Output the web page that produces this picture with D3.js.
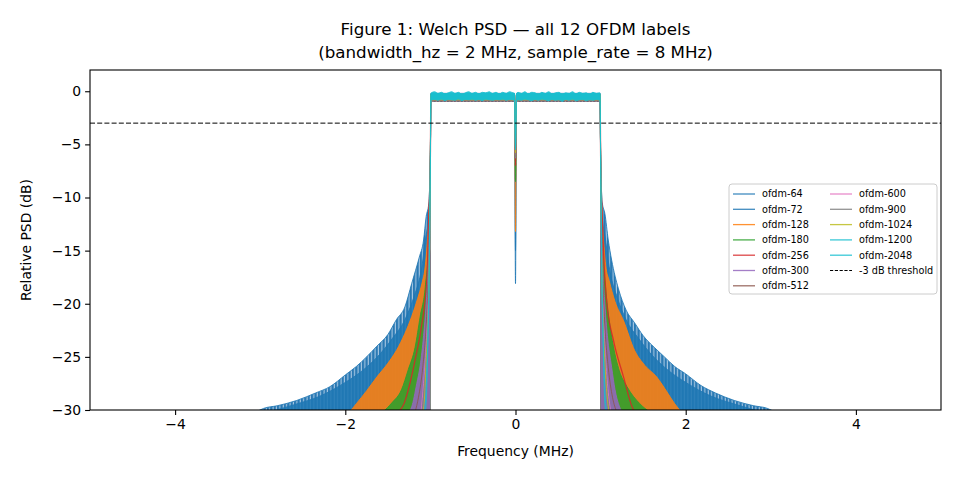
<!DOCTYPE html>
<html>
<head>
<meta charset="utf-8">
<script src="https://cdn.jsdelivr.net/npm/d3@7"></script>
<style>
  body { margin: 0; background: #fff; }
  svg { font-family: 'DejaVu Sans', sans-serif; }
</style>
</head>
<body>
<div id="chart-1"></div>
<script>
// ---- data ----
let labels = ['ofdm-64', 'ofdm-72', 'ofdm-128', 'ofdm-180', 'ofdm-256', 'ofdm-300',
  'ofdm-512', 'ofdm-600', 'ofdm-900', 'ofdm-1024', 'ofdm-1200', 'ofdm-2048']

// series whose side lobes ripple so densely they read as a filled band
let denseRipple = ['ofdm-64', 'ofdm-72', 'ofdm-128', 'ofdm-180', 'ofdm-300']

// in-band plateau (dB): upper and lower edge of the noise
let bandTop = [-0.3, -0.3, -0.25, -0.3, -0.35, -0.3, -0.3, -0.2, -0.3, -0.3, -0.2, -0.2]
let bandLow = [-1.0, -0.95, -0.95, -0.9, -0.95, -0.9, -0.9, -0.85, -0.9, -0.85, -0.8, -0.85]

// depth of the DC notch (dB)
let notchDb = [-18.1, -15, -13.2, -8.5, -7, -6.3, -6, -6, -6.2, -5.8, -5.5, -5.3]

// ofdm-2048 in-band noise (freq MHz, top dB, bottom dB)
let band2048 = [
  [-0.99, -0.15, -0.85], [-0.95, -0.05, -0.8], [-0.91, -0.2, -0.9], [-0.87, -0.1, -0.75],
  [-0.83, -0.25, -0.95], [-0.79, -0.15, -0.8], [-0.75, -0.05, -0.85], [-0.71, -0.2, -0.9],
  [-0.67, -0.1, -0.7], [-0.63, -0.3, -0.95], [-0.59, -0.15, -0.8], [-0.55, -0.05, -0.85],
  [-0.51, -0.2, -0.75], [-0.47, -0.1, -0.9], [-0.43, -0.25, -0.8], [-0.39, -0.1, -0.95],
  [-0.35, -0.15, -0.75], [-0.31, -0.05, -0.85], [-0.27, -0.2, -0.9], [-0.23, -0.1, -0.8],
  [-0.19, -0.25, -0.85], [-0.15, -0.1, -0.75], [-0.11, -0.2, -0.9], [-0.07, -0.05, -0.8],
  [-0.03, -0.15, -0.85], [-0.012, -0.2, -0.9],
  [0.012, -0.2, -0.9], [0.03, -0.1, -0.85], [0.07, -0.2, -0.9], [0.11, -0.05, -0.75], [0.15, -0.25, -0.85],
  [0.19, -0.1, -0.95], [0.23, -0.15, -0.8], [0.27, -0.3, -0.9], [0.31, -0.1, -0.75],
  [0.35, -0.2, -0.85], [0.39, -0.05, -0.95], [0.43, -0.25, -0.8], [0.47, -0.15, -0.9],
  [0.51, -0.1, -0.85], [0.55, -0.3, -1.0], [0.59, -0.15, -0.8], [0.63, -0.2, -0.9],
  [0.67, -0.05, -0.75], [0.71, -0.25, -0.95], [0.75, -0.1, -0.85], [0.79, -0.2, -0.8],
  [0.83, -0.15, -0.95], [0.87, -0.3, -0.85], [0.91, -0.1, -0.9], [0.95, -0.2, -0.8],
  [0.99, -0.15, -0.9]
]

// side-lobe peak envelope (freq MHz, dB), left and right of the band
let skirt64 = [
  [-3.05, -30.2], [-2.96, -29.85], [-2.8, -29.6], [-2.57, -29.1], [-2.35, -28.4], [-2.18, -27.8],
  [-2.0, -26.7], [-1.87, -25.9], [-1.75, -25.0], [-1.63, -24.0], [-1.5, -22.9], [-1.4, -21.5],
  [-1.3, -20.3], [-1.22, -18.1], [-1.13, -15.6], [-1.08, -14.0], [-1.05, -11.8], [-1.02, -10.6], [-1.0, -6],
  [1.0, -6], [1.02, -10.5], [1.05, -11.5], [1.09, -14], [1.13, -15.9], [1.21, -18.6], [1.3, -20.6],
  [1.4, -21.8], [1.5, -23], [1.63, -24.1], [1.75, -25], [1.87, -25.9], [2.0, -26.6], [2.18, -27.7],
  [2.35, -28.4], [2.57, -29.1], [2.8, -29.6], [2.96, -29.85], [3.05, -30.2]
]
let skirt72 = [
  [-2.9, -30.2], [-2.6, -29.5], [-2.3, -28.7], [-2.0, -27.4], [-1.8, -26.3], [-1.6, -24.8],
  [-1.45, -23.3], [-1.3, -21.5], [-1.2, -19.5], [-1.1, -16.5], [-1.05, -13.5], [-1.02, -12], [-1.0, -6],
  [1.0, -6], [1.02, -12], [1.05, -13.5], [1.1, -16.5], [1.2, -19.5], [1.3, -21.5], [1.45, -23.3],
  [1.6, -24.8], [1.8, -26.3], [2.0, -27.4], [2.3, -28.7], [2.6, -29.5], [2.9, -30.2]
]
let skirt128 = [
  [-1.95, -30.2], [-1.87, -29.4], [-1.75, -28.2], [-1.63, -26.9], [-1.5, -25.6], [-1.4, -24.4],
  [-1.3, -22.8], [-1.22, -21.2], [-1.15, -19.5], [-1.1, -18.1], [-1.06, -16.4], [-1.04, -14.6],
  [-1.02, -12], [-1.0, -6],
  [1.0, -6], [1.02, -12], [1.04, -14.6], [1.06, -16.4], [1.1, -17.8], [1.17, -19.8], [1.27, -21.6],
  [1.4, -24.4], [1.52, -25.8], [1.66, -26.9], [1.78, -28.3], [1.87, -29.4], [1.95, -30.2]
]
let skirt180 = [
  [-1.56, -30.2], [-1.45, -29.3], [-1.34, -28.1], [-1.26, -26.2], [-1.18, -24.1], [-1.12, -21.2],
  [-1.06, -18.4], [-1.02, -14], [-1.0, -6],
  [1.0, -6], [1.02, -14], [1.06, -18.6], [1.1, -21.5], [1.15, -24], [1.22, -26.3], [1.31, -27.8],
  [1.46, -29.4], [1.58, -30.2]
]
let skirt256 = [
  [-1.38, -30.2], [-1.31, -29.4], [-1.26, -28.1], [-1.18, -25.3], [-1.1, -21.9], [-1.04, -17.5],
  [-1.02, -12], [-1.0, -6],
  [1.0, -6], [1.02, -12], [1.07, -19.7], [1.15, -23.4], [1.27, -26.9], [1.37, -29.7], [1.4, -30.2]
]
let skirt300 = [
  [-1.26, -30.2], [-1.22, -29.7], [-1.16, -27.5], [-1.12, -25.8], [-1.08, -23], [-1.05, -20],
  [-1.02, -15], [-1.0, -6],
  [1.0, -6], [1.02, -15], [1.05, -20], [1.08, -23], [1.13, -26], [1.17, -28.1], [1.25, -30.2]
]
let skirt512 = [
  [-1.18, -30.2], [-1.14, -28.8], [-1.09, -26], [-1.05, -22], [-1.02, -16], [-1.0, -6],
  [1.0, -6], [1.02, -16], [1.05, -22], [1.09, -26], [1.14, -28.8], [1.19, -30.2]
]
let skirt600 = [
  [-1.11, -30.2], [-1.08, -27.5], [-1.05, -24], [-1.02, -18], [-1.0, -6],
  [1.0, -6], [1.02, -18], [1.05, -24], [1.08, -27.5], [1.12, -30.2]
]
let skirt900 = [
  [-1.1, -30.2], [-1.08, -28.5], [-1.05, -25], [-1.02, -19], [-1.0, -6],
  [1.0, -6], [1.02, -19], [1.05, -25], [1.08, -28.5], [1.11, -30.2]
]
let skirt1024 = [
  [-1.09, -30.2], [-1.07, -29], [-1.05, -25.5], [-1.02, -19], [-1.0, -6],
  [1.0, -6], [1.02, -19], [1.05, -25.5], [1.08, -29], [1.1, -30.2]
]
let skirt1200 = [
  [-1.07, -30.2], [-1.05, -28], [-1.03, -23], [-1.015, -17], [-1.0, -6],
  [1.0, -6], [1.015, -17], [1.03, -23], [1.05, -28], [1.07, -30.2]
]
let skirt2048 = [
  [-1.06, -30.2], [-1.045, -28.5], [-1.03, -24], [-1.015, -18], [-1.0, -6],
  [1.0, -6], [1.015, -18], [1.03, -24], [1.045, -28.5], [1.06, -30.2]
]
let skirts = [skirt64, skirt72, skirt128, skirt180, skirt256, skirt300,
  skirt512, skirt600, skirt900, skirt1024, skirt1200, skirt2048]

let thresholdDb = -3
let xTicks = [-4, -2, 0, 2, 4]
let yTicks = [0, -5, -10, -15, -20, -25, -30]

// ---- styling ----
let colors = ['#1f77b4', '#1f77b4', '#ff7f0e', '#2ca02c', '#d62728', '#9467bd',
  '#8c564b', '#e377c2', '#7f7f7f', '#bcbd22', '#17becf', '#17becf']
let floorDb = -33

let margin = { top: 70, left: 90, right: 19, bottom: 70 }
let width = 960 - margin.left - margin.right
let height = 480 - margin.top - margin.bottom

let root = d3
  .select('#chart-1')
  .append('svg')
  .attr('width', 960)
  .attr('height', 480)

let defs = root.append('defs')
defs
  .append('clipPath')
  .attr('id', 'plot-clip')
  .append('rect')
  .attr('width', width)
  .attr('height', height)

// the dense blue side lobes look like vertical spikes
let pat = defs
  .append('pattern')
  .attr('id', 'ripple-blue')
  .attr('width', 3.4)
  .attr('height', 10)
  .attr('patternUnits', 'userSpaceOnUse')
pat.append('rect').attr('width', 3.4).attr('height', 10).attr('fill', '#a7c8e3')
pat.append('rect').attr('width', 2.3).attr('height', 10).attr('fill', '#2a79b4')

let svg = root
  .append('g')
  .attr('transform', 'translate(' + margin.left + ',' + margin.top + ')')

let x = d3.scaleLinear().domain([-5, 5]).range([0, width])
let y = d3.scaleLinear().domain([-30, 2]).range([height, 0])

// build each series as [freq, upper dB, lower dB]
function seriesPoints(i) {
  let dense = denseRipple.includes(labels[i])
  let sk = skirts[i]
  let left = sk.filter(d => d[0] < 0).map(d => [d[0], d[1], dense ? floorDb : d[1]])
  let right = sk.filter(d => d[0] > 0).map(d => [d[0], d[1], dense ? floorDb : d[1]])
  let band
  if (i === labels.length - 1) {
    band = band2048.filter(d => d[0] < 0)
      .concat([[0, notchDb[i], notchDb[i]]])
      .concat(band2048.filter(d => d[0] > 0))
  } else {
    band = [
      [-0.995, bandTop[i], bandLow[i]],
      [-0.012, bandTop[i], bandLow[i]],
      [0, notchDb[i], notchDb[i]],
      [0.012, bandTop[i], bandLow[i]],
      [0.995, bandTop[i], bandLow[i]]
    ]
  }
  return left.concat(band).concat(right)
}

let area = d3.area()
  .x(d => x(d[0]))
  .y0(d => y(d[2]))
  .y1(d => y(d[1]))
  .curve(d3.curveMonotoneX)

let line = d3.line()
  .x(d => x(d[0]))
  .y(d => y(d[1]))
  .curve(d3.curveMonotoneX)

let plot = svg.append('g').attr('clip-path', 'url(#plot-clip)')

labels.forEach((label, i) => {
  let pts = seriesPoints(i)
  let g = plot.append('g').attr('class', 'series')
  g.append('path')
    .datum(pts)
    .attr('d', area)
    .attr('fill', i === 0 ? 'url(#ripple-blue)' : colors[i])
    .attr('fill-opacity', i === 0 ? 1 : 0.88)
  g.append('path')
    .datum(pts)
    .attr('d', line)
    .attr('fill', 'none')
    .attr('stroke', colors[i])
    .attr('stroke-opacity', 0.85)
    .attr('stroke-width', i === 4 ? 1.3 : 1)
})

// -3 dB threshold
svg.append('line')
  .attr('x1', 0)
  .attr('x2', width)
  .attr('y1', y(thresholdDb))
  .attr('y2', y(thresholdDb))
  .attr('stroke', 'black')
  .attr('stroke-width', 1)
  .attr('stroke-dasharray', '5,2.2')

// axes
let fmt = d => (d < 0 ? '\u2212' + Math.abs(d) : d)

svg.append('g')
  .attr('transform', 'translate(0,' + height + ')')
  .call(d3.axisBottom(x).tickValues(xTicks).tickFormat(fmt).tickSize(4.9).tickPadding(4).tickSizeOuter(0))
svg.append('g')
  .call(d3.axisLeft(y).tickValues(yTicks).tickFormat(fmt).tickSize(4.9).tickPadding(4).tickSizeOuter(0))

svg.selectAll('.domain').remove()
svg.selectAll('.tick line').attr('stroke', 'black').attr('stroke-width', 1.1)
svg.selectAll('.tick text')
  .attr('fill', 'black')
  .style('font-size', '13.9px')
  .style('font-family', "'DejaVu Sans', sans-serif")

svg.append('rect')
  .attr('width', width)
  .attr('height', height)
  .attr('fill', 'none')
  .attr('stroke', 'black')
  .attr('stroke-width', 1.1)

// labels
svg.append('text')
  .attr('x', width / 2)
  .attr('y', height + 46)
  .attr('text-anchor', 'middle')
  .style('font-size', '13.9px')
  .text('Frequency (MHz)')

svg.append('text')
  .attr('transform', 'translate(' + (-59) + ',' + height / 2 + ') rotate(-90)')
  .attr('text-anchor', 'middle')
  .style('font-size', '13.9px')
  .text('Relative PSD (dB)')

let title = svg.append('text')
  .attr('text-anchor', 'middle')
  .style('font-size', '16.7px')
title.append('tspan').attr('x', width / 2).attr('y', -35).text('Figure 1: Welch PSD \u2014 all 12 OFDM labels')
title.append('tspan').attr('x', width / 2).attr('y', -12).text('(bandwidth_hz = 2 MHz, sample_rate = 8 MHz)')

// legend
let legendItems = labels.map((l, i) => ({ label: l, color: colors[i], dash: null }))
legendItems.push({ label: '-3 dB threshold', color: 'black', dash: '3.2,1.6' })

let legend = svg.append('g').attr('transform', 'translate(' + (729 - margin.left) + ',' + (184 - margin.top) + ')')
legend.append('rect')
  .attr('width', 208)
  .attr('height', 110)
  .attr('rx', 3)
  .attr('fill', 'white')
  .attr('fill-opacity', 0.8)
  .attr('stroke', '#cccccc')
  .attr('stroke-width', 1)

let rows = 7
legendItems.forEach((d, i) => {
  let col = Math.floor(i / rows)
  let row = i % rows
  let gx = 4 + col * 97
  let gy = 10 + row * 15.3
  legend.append('line')
    .attr('x1', gx)
    .attr('x2', gx + 22)
    .attr('y1', gy)
    .attr('y2', gy)
    .attr('stroke', d.color)
    .attr('stroke-opacity', d.dash ? 1 : 0.85)
    .attr('stroke-width', d.dash ? 1 : 1.3)
    .attr('stroke-dasharray', d.dash)
  legend.append('text')
    .attr('x', gx + 29)
    .attr('y', gy + 3.4)
    .style('font-size', '9.7px')
    .text(d.label)
})
</script>
</body>
</html>
